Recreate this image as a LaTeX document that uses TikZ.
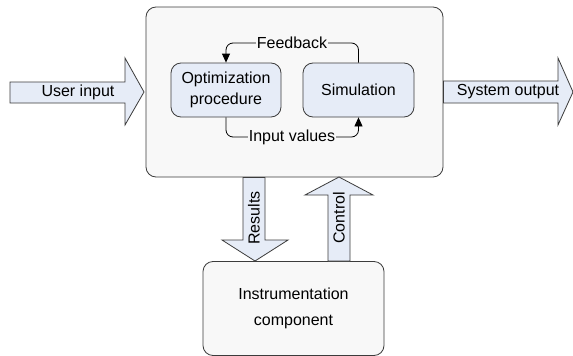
\documentclass[tikz,border=0pt]{standalone}
\usepackage{fontspec}
\setmainfont{Liberation Sans}
\usetikzlibrary{arrows.meta}
\definecolor{edgec}{HTML}{3C3C3C}
\definecolor{mainfill}{HTML}{F8F8F8}
\definecolor{bluefill}{HTML}{E6ECF7}
\tikzset{
  mainbox/.style={draw=edgec, line width=0.8pt, fill=mainfill, rounded corners=10pt, inner sep=0pt},
  innerbox/.style={draw=edgec, line width=0.8pt, fill=bluefill, rounded corners=10pt, inner sep=0pt, align=center},
  blockarrow/.style={draw=edgec, line width=0.8pt, fill=bluefill, line join=miter},
  conn/.style={draw=black, line width=0.8pt, rounded corners=7pt, -{Triangle[length=9pt,width=8pt]}},
  lbl/.style={inner sep=1pt, fill=mainfill, font=\fontsize{16}{18}\selectfont},
  txt/.style={inner sep=0pt, font=\fontsize{16}{18}\selectfont, align=center}
}
\begin{document}
\begin{tikzpicture}[x=1pt, y=-1pt]
\useasboundingbox (0,0) rectangle (573,356);
\fill[white] (0,0) rectangle (573,356);
% main box
\node[mainbox, minimum width=297pt, minimum height=170pt] (main) at (294.5,92) {};
% input arrow
\draw[blockarrow] (10,82) -- (125,82) -- (125,58) -- (144,92) -- (125,125) -- (125,103) -- (10,103) -- cycle;
\node[txt] (uin) at (78,92) {User input};
% output arrow
\draw[blockarrow] (443.5,81) -- (558,81) -- (558,58) -- (573,92) -- (558,125) -- (558,103) -- (443.5,103) -- cycle;
\node[txt] (sout) at (508,92) {System output};
% instrumentation box
\node[mainbox, minimum width=181pt, minimum height=94pt, align=center, font=\fontsize{16}{26}\selectfont] (instr) at (293.5,308.5) {Instrumentation\\component};
% results arrow
\draw[blockarrow] (243,177.5) -- (243,240) -- (222,240) -- (255,261) -- (288,240) -- (265,240) -- (265,177.5) -- cycle;
\node[txt, rotate=90] (res) at (254,218) {Results};
% control arrow
\draw[blockarrow] (328,261) -- (328,195) -- (305,195) -- (339,177) -- (373,195) -- (350,195) -- (350,261) -- cycle;
\node[txt, rotate=90] (ctrl) at (339,218) {Control};
% inner boxes
\node[innerbox, minimum width=110pt, minimum height=54pt, font=\fontsize{16}{21}\selectfont] (opt) at (226,90) {Optimization\\procedure};
\node[innerbox, minimum width=111pt, minimum height=54pt, font=\fontsize{16}{18}\selectfont] (sim) at (358.5,90) {Simulation};
% connectors
\draw[conn] (sim.north) |- (292,43) -| (opt.north);
\draw[conn] (opt.south) |- (292,137) -| (sim.south);
\node[lbl] (fb) at (292,43) {Feedback};
\node[lbl] (iv) at (292,137) {Input values};
\end{tikzpicture}
\end{document}
